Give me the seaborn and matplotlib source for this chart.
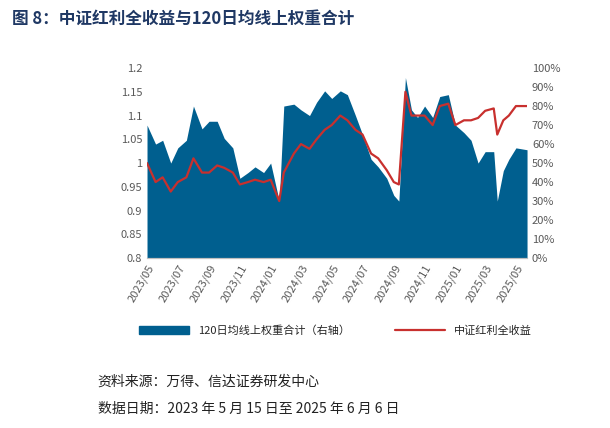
import pandas as pd
import numpy as np
import seaborn as sns
import matplotlib.pyplot as plt
import matplotlib.dates as mdates
from matplotlib.patches import Patch
from matplotlib.lines import Line2D
from matplotlib.ticker import FuncFormatter

sns.set_style('white')
plt.rcParams['font.family'] = ['Noto Sans CJK SC', 'DejaVu Sans']
plt.rcParams['font.sans-serif'] = ['Noto Sans CJK SC', 'DejaVu Sans']

# semi-monthly readings
dates = ['2023-05-15', '2023-06-01', '2023-06-15', '2023-07-01', '2023-07-15', '2023-08-01',
         '2023-08-15', '2023-09-01', '2023-09-15', '2023-10-01', '2023-10-15', '2023-11-01',
         '2023-11-15', '2023-12-01', '2023-12-15', '2024-01-01', '2024-01-15', '2024-02-01',
         '2024-02-10', '2024-03-01', '2024-03-15', '2024-04-01', '2024-04-15', '2024-05-01',
         '2024-05-15', '2024-06-01', '2024-06-15', '2024-07-01', '2024-07-15', '2024-08-01',
         '2024-08-15', '2024-09-01', '2024-09-15', '2024-09-25', '2024-10-08', '2024-10-20',
         '2024-11-01', '2024-11-15', '2024-12-01', '2024-12-15', '2025-01-01', '2025-01-15',
         '2025-02-01', '2025-02-15', '2025-03-01', '2025-03-15', '2025-04-01', '2025-04-08',
         '2025-04-20', '2025-05-01', '2025-05-15', '2025-06-06']
weight_pct = [70, 60, 62, 50, 58, 62, 80, 68, 72, 72, 63, 58, 42, 45, 48, 45, 50, 30,
              80, 81, 78, 75, 82, 88, 84, 88, 86, 75, 65, 52, 48, 42, 33, 30, 95, 78,
              74, 80, 74, 85, 86, 70, 66, 62, 50, 56, 56, 30, 46, 52, 58, 57]
dividend_tr = [1.0, 0.96, 0.97, 0.94, 0.96, 0.97, 1.01, 0.98, 0.98, 0.995, 0.99, 0.98,
               0.955, 0.96, 0.965, 0.96, 0.965, 0.92, 0.98, 1.02, 1.04, 1.03, 1.05, 1.07,
               1.08, 1.1, 1.09, 1.07, 1.06, 1.02, 1.01, 0.985, 0.96, 0.955, 1.15, 1.1,
               1.1, 1.1, 1.08, 1.12, 1.125, 1.08, 1.09, 1.09, 1.095, 1.11, 1.115, 1.06,
               1.09, 1.1, 1.12, 1.12]

df = pd.DataFrame({'date': pd.to_datetime(dates), 'weight': weight_pct, 'index': dividend_tr})

fig = plt.figure(figsize=(6.1, 4.28), dpi=100)
ax = fig.add_axes([0.241, 0.397, 0.623, 0.444])
ax2 = ax.twinx()

blue = '#005f8f'
red = '#c8302e'
ax2.fill_between(df['date'], df['weight'] / 100, 0, color=blue, lw=0)
ax2.set_ylim(0, 1)
ax2.set_yticks(np.arange(0, 1.01, 0.1))
ax2.yaxis.set_major_formatter(FuncFormatter(lambda v, p: f'{v*100:.0f}%'))

sns.lineplot(data=df, x='date', y='index', ax=ax, color=red, lw=1.6, zorder=5)
ax.set_zorder(ax2.get_zorder() + 1)
ax.patch.set_visible(False)
ax.set_ylim(0.8, 1.2)
ax.set_yticks(np.arange(0.8, 1.201, 0.05))
ax.yaxis.set_major_formatter(FuncFormatter(lambda v, p: f'{v:g}'))
ax.set_xlim(pd.Timestamp('2023-05-15'), pd.Timestamp('2025-06-06'))
ax.xaxis.set_major_locator(mdates.MonthLocator(bymonth=[1, 3, 5, 7, 9, 11], bymonthday=15))
ax.xaxis.set_major_formatter(mdates.DateFormatter('%Y/%m'))
ax.set_xlabel('')
ax.set_ylabel('')
for a in (ax, ax2):
    a.tick_params(labelsize=8, colors='#595959', length=0)
    for s in a.spines.values():
        s.set_visible(False)
    a.spines['bottom'].set_visible(True)
    a.spines['bottom'].set_color('#bfbfbf')
for lab in ax.get_xticklabels():
    lab.set_rotation(60)
    lab.set_ha('right')
    lab.set_rotation_mode('anchor')

handles = [Patch(color=blue, label='120日均线上权重合计（右轴）'),
           Line2D([], [], color=red, lw=1.6, label='中证红利全收益')]
fig.legend(handles=handles, loc='center', bbox_to_anchor=(0.55, 0.228), ncol=2,
           frameon=False, fontsize=8, handlelength=4.5, columnspacing=4)

fig.text(0.02, 0.945, '图 8：中证红利全收益与120日均线上权重合计', fontsize=12,
         fontweight='bold', color='#1f3864')
fig.text(0.16, 0.1, '资料来源：万得、信达证券研发中心', fontsize=10, style='italic', color='#222')
fig.text(0.16, 0.035, '数据日期：2023 年 5 月 15 日至 2025 年 6 月 6 日', fontsize=10,
         style='italic', color='#222')

fig.savefig('out.png', dpi=100)
